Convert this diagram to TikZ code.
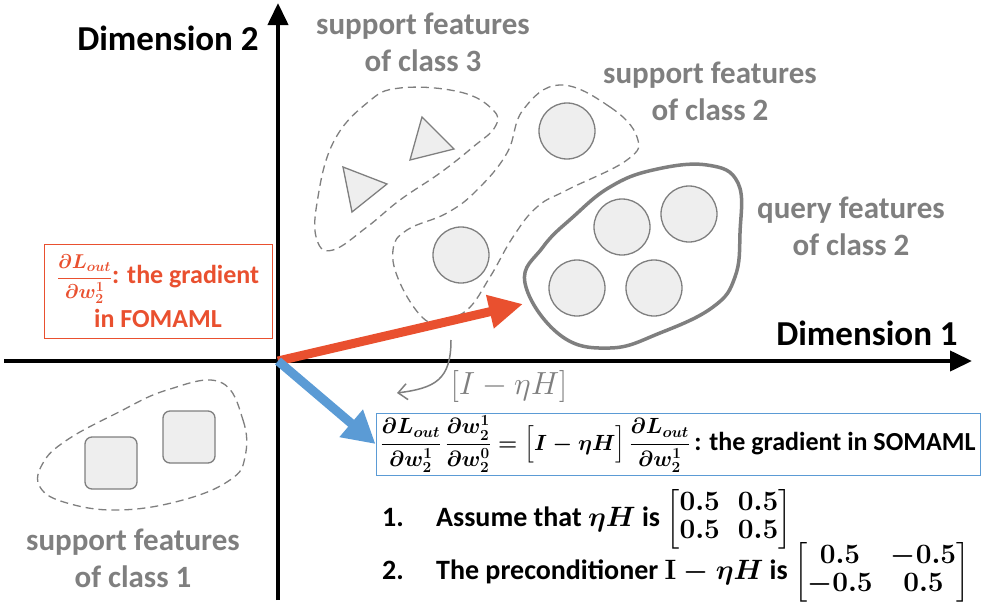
\RequirePackage{fix-cm}
\documentclass[tikz,border=0pt]{standalone}
\usepackage{amsmath}
\usepackage[no-math]{fontspec}
\setmainfont{Carlito}
\usepackage{tikz}
\usetikzlibrary{positioning, arrows.meta}
\definecolor{featgray}{HTML}{7F7F7F}
\definecolor{fillgray}{HTML}{EEEEEE}
\definecolor{fored}{HTML}{E9502F}
\definecolor{soblue}{HTML}{5B9BD5}

\begin{document}
\begin{tikzpicture}[x=1pt, y=-1pt,
    feat/.style={circle, draw=featgray, fill=fillgray, line width=1.3pt, minimum size=56pt, inner sep=0pt},
    sqfeat/.style={rectangle, rounded corners=7pt, draw=featgray, fill=fillgray, line width=1.3pt, minimum size=52pt, inner sep=0pt},
    blob/.style={draw=featgray, line width=1.3pt, dash pattern=on 8pt off 5pt},
    lbl/.style={text=featgray, font=\fontsize{31}{37}\selectfont\bfseries, align=center},
    dimlbl/.style={font=\fontsize{35}{40}\selectfont\bfseries},
    item/.style={anchor=west, inner sep=0pt, font=\fontsize{28}{28}\selectfont\bfseries\boldmath\setlength{\arraycolsep}{9pt}},
    axis/.style={line width=4pt, -{Triangle[length=22pt,width=20pt]}}]
    \useasboundingbox (0,0) rectangle (986,605);

    % Axes
    \coordinate (origin) at (278,361);
    \coordinate (xstart) at (4,361);
    \coordinate (xend) at (972,361);
    \coordinate (ystart) at (278,600);
    \coordinate (yend) at (278,3);
    \draw[axis] (xstart) -- (xend);
    \draw[axis] (ystart) -- (yend);
    \node[dimlbl] (dimtwo) at (168,38) {Dimension 2};
    \node[dimlbl] (dimone) at (867,333) {Dimension 1};

    % support features of class 3
    \draw[blob] plot[smooth cycle, tension=0.7] coordinates {(400,88) (460,92) (493,110) (495,127) (473,147) (440,173) (400,200) (367,227) (333,250) (317,240) (317,203) (333,143) (367,103)};
    \draw[featgray, fill=fillgray, line width=1.3pt] (343,167) -- (387,184) -- (352,212) -- cycle;
    \draw[featgray, fill=fillgray, line width=1.3pt] (422,117) -- (454,149) -- (410,160) -- cycle;
    \node[lbl] (lblthree) at (423,42) {support features\\of class 3};

    % support features of class 2
    \draw[blob] plot[smooth cycle, tension=0.7] coordinates {(560,85) (610,107) (637,137) (627,160) (567,190) (537,207) (513,237) (490,277) (467,310) (440,320) (423,318) (400,283) (393,250) (407,230) (447,213) (477,190) (507,153) (523,110)};
    \node[feat] (stwoa) at (567,131) {};
    \node[feat] (stwob) at (461,255) {};
    \node[lbl] (lbltwo) at (710,91) {support features\\of class 2};

    % query features of class 2
    \draw[featgray, line width=3.5pt] plot[smooth cycle, tension=0.7] coordinates {(707,165) (738,183) (740,233) (735,277) (713,307) (660,333) (610,348) (560,335) (525,283) (543,247) (573,217) (610,187) (653,170)};
    \node[feat] (qa) at (622,227) {};
    \node[feat] (qb) at (689,214) {};
    \node[feat] (qc) at (577,288) {};
    \node[feat] (qd) at (654,288) {};
    \node[lbl] (lblquery) at (851,226) {query features\\of class 2};

    % support features of class 1
    \draw[blob] plot[smooth cycle, tension=0.7] coordinates {(220,382) (243,420) (245,457) (230,480) (183,500) (120,510) (67,503) (40,487) (43,463) (67,440) (117,413) (167,390)};
    \node[sqfeat] (sonea) at (111,463) {};
    \node[sqfeat] (soneb) at (189,437) {};
    \node[lbl] (lblone) at (133,558) {support features\\of class 1};

    % gradient boxes
    \node[draw=fored, line width=1pt, text=fored, align=center, minimum width=228pt, minimum height=94pt, inner sep=1pt,
          font=\fontsize{26}{30}\selectfont\bfseries\boldmath] (fobox) at (158,291)
          {{\fontsize{20}{22}\selectfont$\dfrac{\partial L_{out}}{\partial w_2^1}$}: the gradient\\[4pt]in FOMAML};
    \node[draw=soblue, line width=1pt, minimum width=604pt, minimum height=62pt, inner sep=1pt,
          font=\fontsize{26}{30}\selectfont\bfseries\boldmath] (sobox) at (678,444)
          {{\fontsize{22}{24}\selectfont$\dfrac{\partial L_{out}}{\partial w_2^1}\,\dfrac{\partial w_2^1}{\partial w_2^0}=\Big[I-\eta H\Big]\,\dfrac{\partial L_{out}}{\partial w_2^1}$}\,: the gradient in SOMAML};

    % gradient arrows
    \coordinate (redtip) at (523,304);
    \draw[fored, line width=9pt, -{Triangle[length=34pt,width=32pt]}] (origin) -- (redtip);
    \draw[soblue, line width=9pt, -{Triangle[length=32pt,width=34pt]}] (origin) -- (sobox.west);

    % preconditioner
    \coordinate (cvstart) at (451,340);
    \coordinate (cvend) at (397,393);
    \draw[featgray, line width=1.5pt, -{Straight Barb[length=9pt,width=16pt]}] (cvstart) .. controls (451,380) and (435,388) .. (cvend);
    \node[text=featgray, font=\fontsize{32}{36}\selectfont] (precond) at (509,386) {$[I-\eta H]$};

    % assumptions
    \node[item] (itemone) at (382,519) {\makebox[54pt][l]{1.}Assume that $\eta H$ is $\begin{bmatrix}0.5 & 0.5\\ 0.5 & 0.5\end{bmatrix}$};
    \node[item] (itemtwo) at (382,572) {\makebox[54pt][l]{2.}The preconditioner $\mathbf{I}-\eta H$ is $\begin{bmatrix}0.5 & -0.5\\ -0.5 & 0.5\end{bmatrix}$};
\end{tikzpicture}
\end{document}
